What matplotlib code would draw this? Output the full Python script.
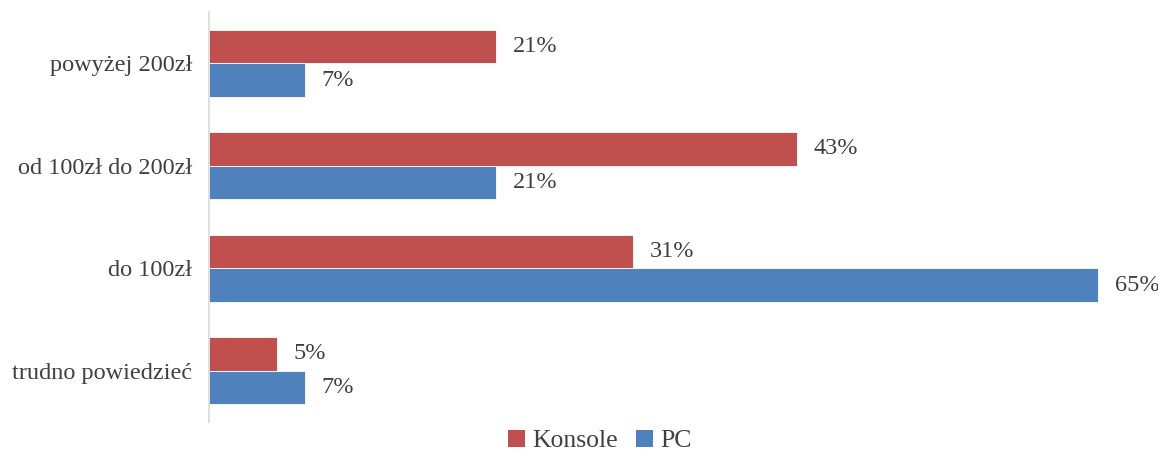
import matplotlib
matplotlib.use("Agg")
import matplotlib.pyplot as plt
import numpy as np
from matplotlib.patches import Patch

categories = ["powyżej 200zł", "od 100zł do 200zł", "do 100zł", "trudno powiedzieć"]
konsole = [21, 43, 31, 5]
pc = [7, 21, 65, 7]
series_names = ["Konsole", "PC"]

plt.rcParams['font.family'] = ['Liberation Serif', 'DejaVu Serif']
TXT = '#404040'
RED = '#C0504D'
BLUE = '#4F81BD'
FS = 17.5

W, H = 1158, 455
fig = plt.figure(figsize=(W/100, H/100), dpi=100)
left, right, top, bottom = 209, 1158, 12, 422
ax = fig.add_axes([left/W, 1 - bottom/H, (right-left)/W, (bottom-top)/H])

n = len(categories)
y = np.arange(n)
bh = 0.327
ax.barh(y - bh/2, konsole, height=bh, color=RED, edgecolor='white', linewidth=0.6)
ax.barh(y + bh/2, pc, height=bh, color=BLUE, edgecolor='white', linewidth=0.6)

xmax = (right - left) / 13.68
ax.set_xlim(0, xmax)
ax.set_ylim(n - 0.5, -0.5)

for i in range(n):
    ax.text(konsole[i] + 1.2, y[i] - bh/2, f"{konsole[i]}%", va='center', ha='left', fontsize=FS, color=TXT)
    ax.text(pc[i] + 1.2, y[i] + bh/2, f"{pc[i]}%", va='center', ha='left', fontsize=FS, color=TXT)

ax.set_yticks(y)
ax.set_yticklabels(categories, fontsize=FS, color=TXT)
ax.tick_params(axis='y', length=0, pad=12)
ax.set_xticks([])
for s in ['top', 'right', 'bottom']:
    ax.spines[s].set_visible(False)
ax.spines['left'].set_color('#D9D9D9')
ax.spines['left'].set_linewidth(1.2)

handles = [Patch(facecolor=RED, label=series_names[0]), Patch(facecolor=BLUE, label=series_names[1])]
fig.legend(handles=handles, loc='center', bbox_to_anchor=(600/W, 1 - 441/H), ncol=2, frameon=False,
           fontsize=18.5, labelcolor=TXT, handlelength=0.65, handleheight=0.65, handletextpad=0.3,
           columnspacing=0.7)

fig.savefig("out.png", dpi=100)
